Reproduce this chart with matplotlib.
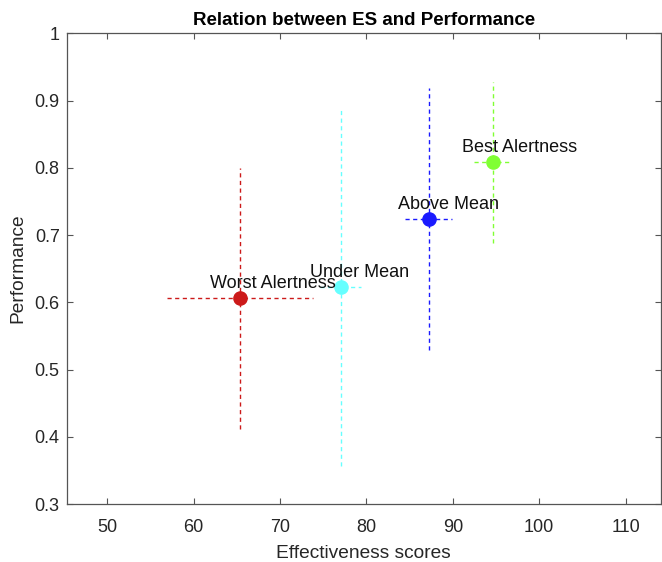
import matplotlib.pyplot as plt
from matplotlib.ticker import FormatStrFormatter

# Data
groups = ['Worst Alertness', 'Under Mean', 'Above Mean', 'Best Alertness']
es = [65.4, 77.0, 87.2, 94.6]
perf = [0.606, 0.623, 0.724, 0.808]
es_err = [8.45, 2.4, 2.75, 2.1]
perf_err = [0.194, 0.267, 0.195, 0.12]
colors = ['#cc1a1a', '#66ffff', '#1a1aff', '#80ff33']

plt.rcParams['font.family'] = ['Liberation Sans', 'DejaVu Sans']

fig = plt.figure(figsize=(6.62, 5.62), dpi=100)
ax = fig.add_axes([0.1007, 0.1032, 0.8978, 0.8375])

for i in range(len(groups)):
    eb = ax.errorbar(es[i], perf[i], xerr=es_err[i], yerr=perf_err[i], fmt='none',
                     ecolor=colors[i], elinewidth=1.0, capsize=0)
    for lc in eb[2]:
        lc.set_linestyle((0, (3, 2.5)))
    ax.plot(es[i], perf[i], 'o', color=colors[i], markersize=9.5)
    ax.text(es[i] - 3.5, perf[i] + 0.022, groups[i], fontsize=13,
            ha='left', va='center', color='#111111')

ax.set_xlim(45.3, 114.1)
ax.set_ylim(0.3, 1.0)
ax.set_xticks([50, 60, 70, 80, 90, 100, 110])
ax.set_yticks([0.3, 0.4, 0.5, 0.6, 0.7, 0.8, 0.9, 1.0])
ax.yaxis.set_major_formatter(FormatStrFormatter('%g'))

ax.tick_params(direction='in', length=4.5, width=0.8, top=True, right=True,
               labelsize=13, colors='#555555', labelcolor='#262626')
ax.tick_params(axis='x', pad=11)
ax.tick_params(axis='y', pad=5)
for sp in ax.spines.values():
    sp.set_color('#555555')
    sp.set_linewidth(0.9)

ax.set_title('Relation between ES and Performance', fontsize=13.5,
             fontweight='bold', pad=6)
ax.set_xlabel('Effectiveness scores', fontsize=13.8, color='#262626', labelpad=6)
ax.set_ylabel('Performance', fontsize=13.8, color='#262626', labelpad=6)

fig.savefig('out.png', dpi=100)
